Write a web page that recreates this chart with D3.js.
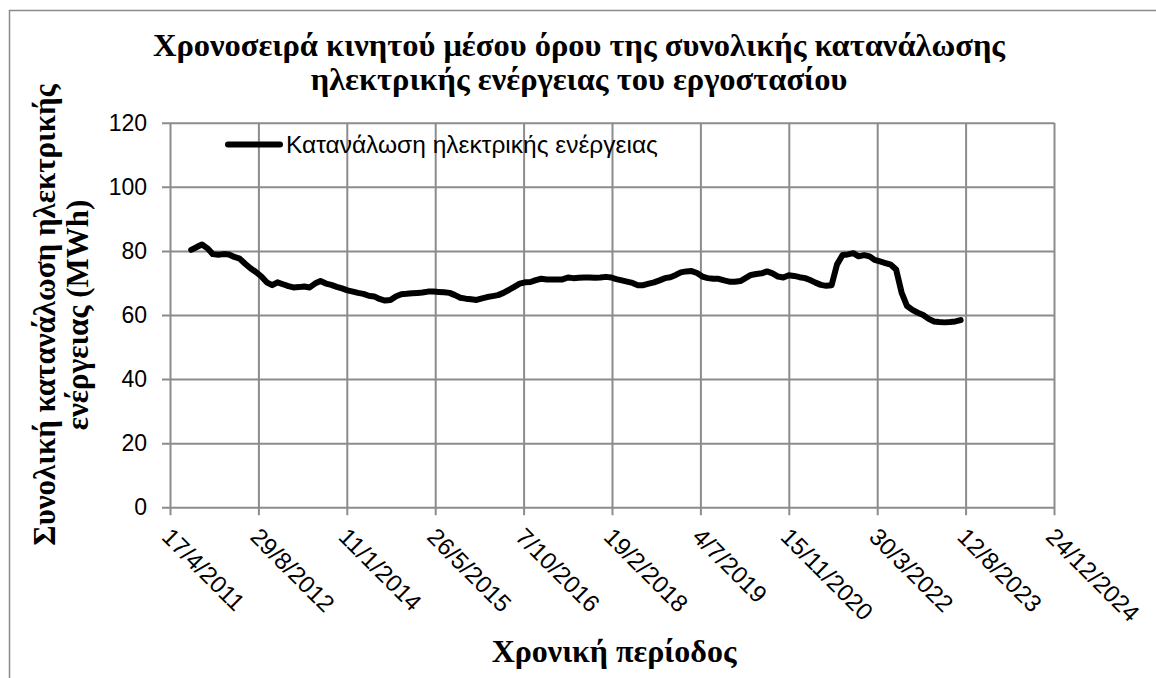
<!DOCTYPE html>
<html>
<head>
<meta charset="utf-8">
<script src="https://cdn.jsdelivr.net/npm/d3@7"></script>
<style>
  body { margin: 0; background: #fff; }
  svg { display: block; }
</style>
</head>
<body>
<div id="chart"></div>
<script>
// ---- data ----
const titleLines = ["Χρονοσειρά κινητού μέσου όρου της συνολικής κατανάλωσης",
                    "ηλεκτρικής ενέργειας του εργοστασίου"];
const yTitleLines = ["Συνολική κατανάλωση ηλεκτρικής", "ενέργειας (MWh)"];
const xTitle = "Χρονική περίοδος";
const seriesName = "Κατανάλωση ηλεκτρικής ενέργειας";

const xTickLabels = ["17/4/2011", "29/8/2012", "11/1/2014", "26/5/2015", "7/10/2016",
                     "19/2/2018", "4/7/2019", "15/11/2020", "30/3/2022", "12/8/2023", "24/12/2024"];
const yTicks = [0, 20, 40, 60, 80, 100, 120];

// monthly moving average, first value = August 2011
const firstMonth = [2011, 8];
const consumption = [
  80.3, 81.2, 82.0, 80.8, 79.0,                                        // 2011
  78.8, 79.0, 78.9, 78.1, 77.6, 76.0, 74.6, 73.4, 72.0, 70.2, 69.3, 70.2, // 2012
  69.6, 69.0, 68.6, 68.7, 68.9, 68.6, 69.8, 70.6, 69.8, 69.4, 68.8, 68.3, // 2013
  67.7, 67.3, 66.9, 66.6, 66.0, 65.8, 65.0, 64.5, 64.7, 65.8, 66.5, 66.6, // 2014
  66.8, 66.9, 67.0, 67.3, 67.3, 67.2, 67.1, 66.9, 66.2, 65.4, 65.1, 64.9, // 2015
  64.7, 65.2, 65.6, 65.9, 66.2, 66.9, 67.8, 68.8, 69.8, 70.2, 70.3, 70.9, // 2016
  71.3, 71.1, 71.1, 71.1, 71.1, 71.7, 71.5, 71.6, 71.7, 71.7, 71.6, 71.7, // 2017
  71.9, 71.7, 71.2, 70.8, 70.4, 70.0, 69.3, 69.3, 69.8, 70.2, 70.8, 71.5, // 2018
  71.8, 72.5, 73.3, 73.6, 73.7, 73.1, 72.0, 71.5, 71.3, 71.3, 70.8, 70.4, // 2019
  70.4, 70.6, 71.5, 72.5, 72.8, 73.0, 73.6, 73.0, 72.0, 71.7, 72.4, 72.2, // 2020
  71.8, 71.5, 70.9, 70.1, 69.4, 69.1, 69.3, 75.8, 78.7, 78.9, 79.3, 78.3, // 2021
  78.7, 78.3, 77.2, 76.7, 76.2, 75.7, 74.2, 67.0, 62.8, 61.6, 60.7, 60.0, // 2022
  58.8, 58.0, 57.8, 57.7, 57.8, 58.0, 58.4                                // 2023
];

// ---- layout ----
const W = 1156, H = 678;
const plot = { left: 170, right: 1054, top: 122.7, bottom: 507.3 };
const gridColor = "#8c8c8c";
const serif = "'Liberation Serif', 'Times New Roman', serif";
const sans = "'Liberation Sans', Arial, sans-serif";

const parseTick = d3.timeParse("%d/%m/%Y");
const tickDates = xTickLabels.map(parseTick);
const data = consumption.map((v, i) => ({
  date: new Date(firstMonth[0], firstMonth[1] - 1 + i, 15),
  value: v
}));

const svg = d3.select("#chart").append("svg")
  .attr("width", W)
  .attr("height", H);

// outer chart border (only left and top visible in the frame)
svg.append("rect")
  .attr("x", 9.5).attr("y", 10.5)
  .attr("width", W + 20).attr("height", H + 20)
  .attr("fill", "none")
  .attr("stroke", "#8a8a8a")
  .attr("stroke-width", 1.5);

const x = d3.scaleTime()
  .domain([tickDates[0], tickDates[tickDates.length - 1]])
  .range([plot.left, plot.right]);

const y = d3.scaleLinear()
  .domain([0, 120])
  .range([plot.bottom, plot.top]);

const plotW = plot.right - plot.left;
const plotH = plot.bottom - plot.top;
const tickLen = 8;

// y axis + horizontal gridlines
const yAxis = svg.append("g")
  .attr("transform", `translate(${plot.left - tickLen},0)`)
  .call(d3.axisLeft(y).tickValues(yTicks).tickSize(-(plotW + tickLen)).tickPadding(15));
yAxis.select(".domain").remove();
yAxis.selectAll(".tick line")
  .attr("stroke", gridColor)
  .attr("stroke-width", 2);
yAxis.selectAll(".tick text")
  .attr("font-family", sans)
  .attr("font-size", 23)
  .attr("fill", "#000");

// x axis + vertical gridlines
const xAxis = svg.append("g")
  .attr("transform", `translate(0,${plot.bottom + tickLen})`)
  .call(d3.axisBottom(x).tickValues(tickDates).tickSize(-(plotH + tickLen)).tickFormat((d, i) => xTickLabels[i]));
xAxis.select(".domain").remove();
xAxis.selectAll(".tick line")
  .attr("stroke", gridColor)
  .attr("stroke-width", 2);
xAxis.selectAll(".tick text")
  .attr("font-family", sans)
  .attr("font-size", 24)
  .attr("fill", "#000")
  .attr("x", 0).attr("y", 0).attr("dy", 0)
  .attr("text-anchor", "start")
  .attr("transform", "translate(-10,23) rotate(45)");

// the series
const line = d3.line()
  .x(d => x(d.date))
  .y(d => y(d.value));

svg.append("path")
  .datum(data)
  .attr("fill", "none")
  .attr("stroke", "#000")
  .attr("stroke-width", 6)
  .attr("stroke-linejoin", "round")
  .attr("stroke-linecap", "round")
  .attr("d", line);

// legend
const legend = svg.append("g").attr("transform", "translate(228,144.5)");
legend.append("line")
  .attr("x1", 0).attr("x2", 52)
  .attr("stroke", "#000")
  .attr("stroke-width", 6)
  .attr("stroke-linecap", "round");
legend.append("text")
  .attr("x", 58)
  .attr("dy", "0.35em")
  .attr("font-family", sans)
  .attr("font-size", 24.5)
  .text(seriesName);

// titles
svg.append("text")
  .attr("text-anchor", "middle")
  .attr("font-family", serif)
  .attr("font-weight", "bold")
  .attr("font-size", 32.5)
  .selectAll("tspan")
  .data(titleLines)
  .join("tspan")
    .attr("x", 579)
    .attr("y", (d, i) => 56 + i * 34)
    .text(d => d);

svg.append("text")
  .attr("text-anchor", "middle")
  .attr("font-family", serif)
  .attr("font-weight", "bold")
  .attr("font-size", 31)
  .attr("transform", `translate(0,${(plot.top + plot.bottom) / 2}) rotate(-90)`)
  .selectAll("tspan")
  .data(yTitleLines)
  .join("tspan")
    .attr("x", 0)
    .attr("y", (d, i) => 55 + i * 33)
    .text(d => d);

svg.append("text")
  .attr("x", 614)
  .attr("y", 662)
  .attr("text-anchor", "middle")
  .attr("font-family", serif)
  .attr("font-weight", "bold")
  .attr("font-size", 32)
  .text(xTitle);
</script>
</body>
</html>
